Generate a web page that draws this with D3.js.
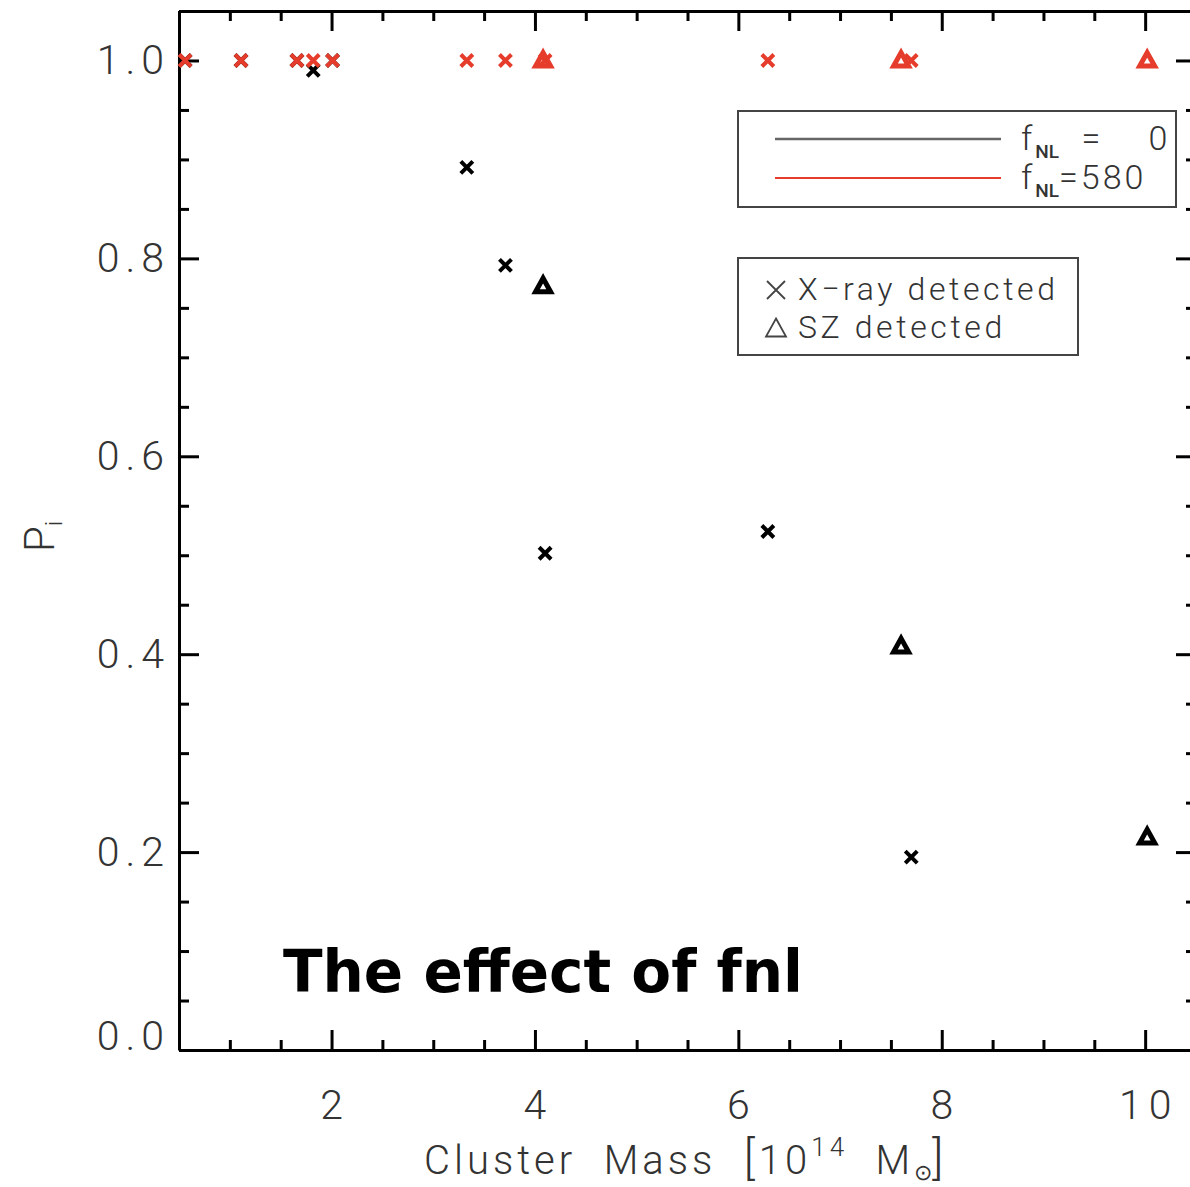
<!DOCTYPE html>
<html>
<head>
<meta charset="utf-8">
<script src="https://cdn.jsdelivr.net/npm/d3@7"></script>
<style>
  html, body { margin: 0; padding: 0; background: #fff; }
  svg { display: block; }
  .lbl { font-family: Roboto, "DejaVu Sans", sans-serif; font-weight: 300; fill: #333; }
</style>
</head>
<body>
<svg id="chart" width="1190" height="1187"></svg>
<script>
// Detection probability P_i against cluster mass (units of 1e14 Msun)
// fNL = 0 (black)
const xrayMassF0 = [0.56, 1.11, 1.66, 1.82, 2.01, 3.33, 3.71, 4.10, 6.29, 7.70];
const xrayProbF0 = [1.00, 1.00, 1.00, 0.99, 1.00, 0.892, 0.793, 0.502, 0.524, 0.195];
const szMassF0   = [4.08, 7.60, 10.02];
const szProbF0   = [0.772, 0.408, 0.215];
// fNL = 580 (red)
const xrayMassF580 = [0.56, 1.11, 1.66, 1.82, 2.01, 3.33, 3.71, 4.10, 6.29, 7.70];
const xrayProbF580 = [1, 1, 1, 1, 1, 1, 1, 1, 1, 1];
const szMassF580   = [4.08, 7.60, 10.02];
const szProbF580   = [1, 1, 1];

const xMajorTicks = [2, 4, 6, 8, 10];
const yMajorTicks = [0, 0.2, 0.4, 0.6, 0.8, 1.0];
const legendSeries = ["f_NL  =    0", "f_NL=580"];
const legendMarkers = ["X\u2212ray detected", "SZ detected"];

const BLACK = "#000";
const RED = "#e63c2b";

const svg = d3.select("#chart");
const pLeft = 179, pRight = 1196, pTop = 11, pBottom = 1050;

const x = d3.scaleLinear().domain([0.5, 10.5]).range([pLeft, pRight]);
const y = d3.scaleLinear().domain([0, 1.05]).range([pBottom, pTop]);

const xMinor = d3.range(0.5, 10.51, 0.5).filter(v => Math.abs(v - Math.round(v / 2) * 2) > 1e-6);
const yMinor = d3.range(0, 1.051, 0.05).filter(v => Math.abs(v * 5 - Math.round(v * 5)) > 1e-6);

function styleAxis(g) {
  g.select(".domain").attr("stroke", "#000").attr("stroke-width", 3);
  g.selectAll(".tick line").attr("stroke", "#000").attr("stroke-width", 3);
}

// bottom axis with labels
const gxb = svg.append("g").attr("transform", `translate(0,${pBottom})`)
  .call(d3.axisBottom(x).tickValues(xMajorTicks).tickSizeInner(-20).tickSizeOuter(0)
        .tickPadding(40).tickFormat(d3.format("d")));
styleAxis(gxb);
gxb.selectAll("text").attr("class", "lbl").style("font-size", "41px").attr("fill", "#333")
  .attr("font-family", null).attr("dy", "0.71em").attr("letter-spacing", "7px").attr("dx", "3px");
svg.append("g").attr("transform", `translate(0,${pBottom})`)
  .call(d3.axisBottom(x).tickValues(xMinor).tickSizeInner(-10).tickSizeOuter(0).tickFormat(""))
  .call(g => { styleAxis(g); g.select(".domain").remove(); });

// top axis (ticks only)
const gxt = svg.append("g").attr("transform", `translate(0,${pTop})`)
  .call(d3.axisTop(x).tickValues(xMajorTicks).tickSizeInner(-20).tickSizeOuter(0).tickFormat(""));
styleAxis(gxt);
svg.append("g").attr("transform", `translate(0,${pTop})`)
  .call(d3.axisTop(x).tickValues(xMinor).tickSizeInner(-10).tickSizeOuter(0).tickFormat(""))
  .call(g => { styleAxis(g); g.select(".domain").remove(); });

// left axis with labels
const gyl = svg.append("g").attr("transform", `translate(${pLeft},0)`)
  .call(d3.axisLeft(y).tickValues(yMajorTicks).tickSizeInner(-20).tickSizeOuter(0)
        .tickPadding(9).tickFormat(d3.format(".1f")));
styleAxis(gyl);
gyl.selectAll("text").attr("class", "lbl").style("font-size", "41px").attr("fill", "#333")
  .attr("font-family", null).attr("letter-spacing", "6px");
gyl.selectAll(".tick").filter(d => d === 0).select("text").attr("dy", "-0.02em");
svg.append("g").attr("transform", `translate(${pLeft},0)`)
  .call(d3.axisLeft(y).tickValues(yMinor).tickSizeInner(-10).tickSizeOuter(0).tickFormat(""))
  .call(g => { styleAxis(g); g.select(".domain").remove(); });

// right axis (ticks only)
const gyr = svg.append("g").attr("transform", `translate(${pRight},0)`)
  .call(d3.axisRight(y).tickValues(yMajorTicks).tickSizeInner(-20).tickSizeOuter(0).tickFormat(""));
styleAxis(gyr);
svg.append("g").attr("transform", `translate(${pRight},0)`)
  .call(d3.axisRight(y).tickValues(yMinor).tickSizeInner(-10).tickSizeOuter(0).tickFormat(""))
  .call(g => { styleAxis(g); g.select(".domain").remove(); });

// markers
const crossPath = s => `M${-s},${-s}L${s},${s}M${-s},${s}L${s},${-s}`;
const triPath = s => `M0,${-s * 1.05}L${s},${s * 0.75}L${-s},${s * 0.75}Z`;

function drawCrosses(mass, prob, color) {
  svg.append("g").selectAll("path").data(d3.zip(mass, prob)).join("path")
    .attr("transform", d => `translate(${x(d[0])},${y(d[1])})`)
    .attr("d", crossPath(6))
    .attr("fill", "none").attr("stroke", color).attr("stroke-width", 4);
}
function drawTriangles(mass, prob, color) {
  svg.append("g").selectAll("path").data(d3.zip(mass, prob)).join("path")
    .attr("transform", d => `translate(${x(d[0])},${y(d[1])})`)
    .attr("d", triPath(7.5))
    .attr("fill", "none").attr("stroke", color).attr("stroke-width", 5)
    .attr("stroke-linejoin", "miter");
}
drawCrosses(xrayMassF0, xrayProbF0, BLACK);
drawTriangles(szMassF0, szProbF0, BLACK);
drawCrosses(xrayMassF580, xrayProbF580, RED);
drawTriangles(szMassF580, szProbF580, RED);

// legend: series colours
const lg1 = svg.append("g");
lg1.append("rect").attr("x", 738).attr("y", 111).attr("width", 438).attr("height", 96)
  .attr("fill", "#fff").attr("stroke", "#444").attr("stroke-width", 2);
[BLACK, RED].forEach((c, i) => {
  const yy = 139 + i * 39;
  lg1.append("line").attr("x1", 775).attr("x2", 1001).attr("y1", yy).attr("y2", yy)
    .attr("stroke", i === 0 ? "#666" : RED).attr("stroke-width", i === 0 ? 2.5 : 2);
  const t = lg1.append("text").attr("class", "lbl").attr("x", 1021).attr("y", yy + 11)
    .style("font-size", "34px").attr("letter-spacing", "3px").style("white-space", "pre");
  const parts = legendSeries[i].split("_NL");
  t.append("tspan").text(parts[0]);
  t.append("tspan").attr("dy", 8).style("font-size", "19px").style("font-weight", 500)
    .attr("letter-spacing", "0px").text("NL");
  t.append("tspan").attr("dy", -8).text(parts[1]);
});

// legend: marker symbols
const lg2 = svg.append("g");
lg2.append("rect").attr("x", 738).attr("y", 258).attr("width", 340).attr("height", 97)
  .attr("fill", "#fff").attr("stroke", "#444").attr("stroke-width", 2);
lg2.append("path").attr("transform", "translate(776,290)").attr("d", crossPath(9))
  .attr("fill", "none").attr("stroke", "#444").attr("stroke-width", 1.8);
lg2.append("path").attr("transform", "translate(776,329)").attr("d", triPath(10))
  .attr("fill", "none").attr("stroke", "#444").attr("stroke-width", 1.8);
legendMarkers.forEach((m, i) => {
  lg2.append("text").attr("class", "lbl").attr("x", 798).attr("y", 300 + i * 38)
    .style("font-size", "32px").attr("letter-spacing", "3.6px").text(m);
});

// axis titles
const xt = svg.append("text").attr("class", "lbl").attr("x", 424).attr("y", 1174)
  .style("font-size", "40px").attr("letter-spacing", "4px").style("white-space", "pre");
xt.append("tspan").text("Cluster  Mass  ");
xt.append("tspan").style("font-size", "46px").text("[");
xt.append("tspan").text("10");
xt.append("tspan").attr("dy", -18).style("font-size", "26px").text("14");
xt.append("tspan").attr("dy", 18).text("  M");
xt.append("tspan").attr("dy", 6).style("font-size", "22px").attr("letter-spacing", "0px").text("\u2299");
xt.append("tspan").attr("dy", -6).style("font-size", "46px").text("]");

const yt = svg.append("text").attr("class", "lbl")
  .attr("transform", "translate(54,552) rotate(-90)").style("font-size", "42px");
yt.append("tspan").text("P");
yt.append("tspan").attr("dy", 8).style("font-size", "24px").text("i");

// caption inside the plot
svg.append("text").attr("x", 283).attr("y", 992)
  .attr("font-family", "'DejaVu Sans', sans-serif").attr("font-weight", "bold")
  .style("font-size", "58px").attr("fill", "#000")
  .attr("textLength", 520).attr("lengthAdjust", "spacingAndGlyphs")
  .text("The effect of fnl");
</script>
</body>
</html>
